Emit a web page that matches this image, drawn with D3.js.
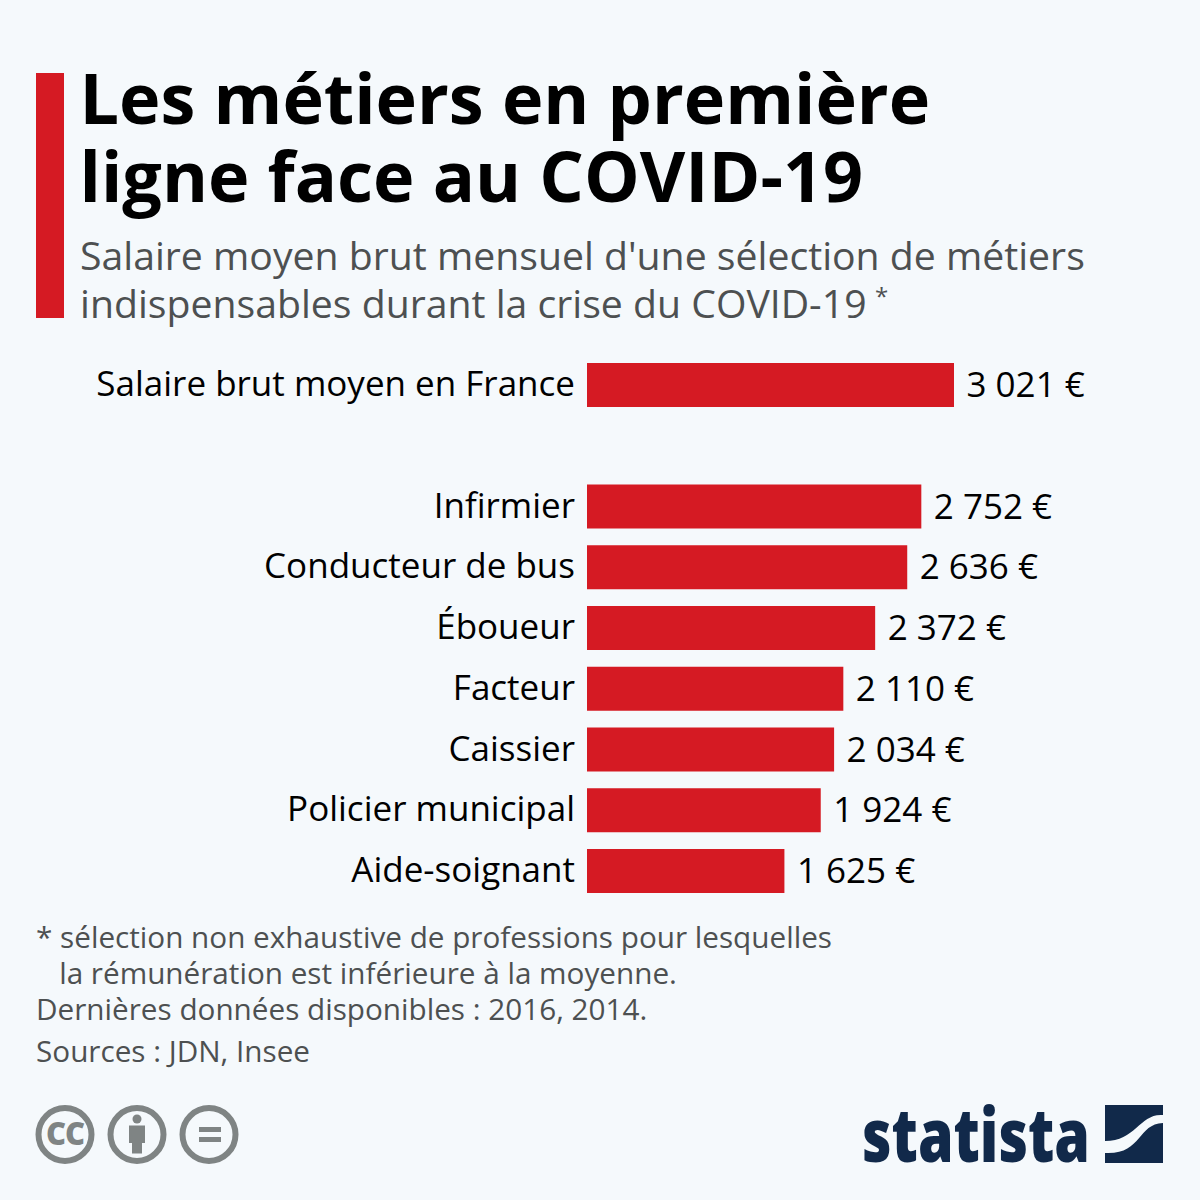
<!DOCTYPE html>
<html lang="fr">
<head>
<meta charset="utf-8">
<script src="https://cdn.jsdelivr.net/npm/d3@7"></script>
<style>
    html, body { margin: 0; padding: 0; background: #f5f9fc; }
    svg { display: block; }
    text { font-family: "Open Sans", sans-serif; }
</style>
</head>
<body>
<svg id="chart" width="1200" height="1200"></svg>
<script>
// "" is the empty row between the national average and the jobs
var categories = ["Salaire brut moyen en France", "", "Infirmier", "Conducteur de bus", "Éboueur", "Facteur", "Caissier", "Policier municipal", "Aide-soignant"];
var salaries = [3021, null, 2752, 2636, 2372, 2110, 2034, 1924, 1625];
var titleLines = ["Les métiers en première", "ligne face au COVID-19"];
var subtitleLines = ["Salaire moyen brut mensuel d'une sélection de métiers", "indispensables durant la crise du COVID-19"];
var noteLines = ["* sélection non exhaustive de professions pour lesquelles", "   la rémunération est inférieure à la moyenne.", "Dernières données disponibles : 2016, 2014."];
var sourceLine = "Sources : JDN, Insee";

var red = "#d51a23";
var svg = d3.select("#chart");

svg.append("rect").attr("width", 1200).attr("height", 1200).attr("fill", "#f5f9fc");

// header
svg.append("rect").attr("x", 36).attr("y", 73).attr("width", 28).attr("height", 245).attr("fill", red);

svg.selectAll(".title").data(titleLines).enter().append("text")
    .attr("class", "title")
    .attr("x", 79.5)
    .attr("y", (d, i) => 124 + i * 78)
    .attr("font-size", 70.1)
    .attr("font-weight", 700)
    .attr("fill", "#000")
    .text(d => d);

svg.selectAll(".subtitle").data(subtitleLines).enter().append("text")
    .attr("class", "subtitle")
    .attr("x", 80)
    .attr("y", (d, i) => 270 + i * 48)
    .attr("font-size", 39.2)
    .attr("fill", "#4d5051")
    .text(d => d);

svg.append("text")
    .attr("x", 875).attr("y", 305)
    .attr("font-size", 24)
    .attr("fill", "#4d5051")
    .text("*");

// bars
var x = d3.scaleLinear().domain([0, 3021]).range([587, 954]);
var rowTop = d3.scalePoint().domain(d3.range(categories.length)).range([363, 849]);

var rows = categories.map((c, i) => ({ name: c, value: salaries[i], i: i })).filter(d => d.value !== null);

svg.selectAll(".bar").data(rows).enter().append("rect")
    .attr("class", "bar")
    .attr("x", x(0))
    .attr("y", d => rowTop(d.i))
    .attr("width", d => x(d.value) - x(0))
    .attr("height", 44)
    .attr("fill", red);

svg.selectAll(".cat").data(rows).enter().append("text")
    .attr("class", "cat")
    .attr("x", 575)
    .attr("y", d => rowTop(d.i) + 33)
    .attr("text-anchor", "end")
    .attr("font-size", 35)
    .attr("fill", "#000")
    .text(d => d.name);

var fmt = v => String(Math.floor(v / 1000)) + " " + d3.format("03")(v % 1000) + " €";
svg.selectAll(".val").data(rows).enter().append("text")
    .attr("class", "val")
    .attr("x", d => x(d.value) + 12.5)
    .attr("y", d => rowTop(d.i) + 34)
    .attr("font-size", 35)
    .attr("fill", "#000")
    .text(d => fmt(d.value));

// footnotes
svg.selectAll(".note").data(noteLines).enter().append("text")
    .attr("class", "note")
    .attr("x", 36)
    .attr("y", (d, i) => 948 + i * 36)
    .attr("font-size", 29.7)
    .attr("fill", "#4d5051")
    .attr("xml:space", "preserve")
    .style("white-space", "pre")
    .text(d => d);

svg.append("text")
    .attr("x", 36).attr("y", 1062)
    .attr("font-size", 29.7)
    .attr("fill", "#4d5051")
    .text(sourceLine);

// licence icons
var grey = "#7f8484";
[65, 137, 209].forEach(cx => {
    svg.append("circle").attr("cx", cx).attr("cy", 1134.5).attr("r", 26.5)
        .attr("fill", "none").attr("stroke", grey).attr("stroke-width", 6);
});
svg.append("text")
    .attr("x", 65).attr("y", 1145)
    .attr("text-anchor", "middle")
    .attr("font-size", 31).attr("font-weight", 800).attr("letter-spacing", -1)
    .attr("fill", grey)
    .text("CC");
svg.append("circle").attr("cx", 137).attr("cy", 1119).attr("r", 4.5).attr("fill", grey);
svg.append("path").attr("fill", grey)
    .attr("d", "M129 1125.5H145V1143H142V1153.5H132V1143H129Z");
svg.append("rect").attr("x", 199).attr("y", 1127).attr("width", 22).attr("height", 5).attr("fill", grey);
svg.append("rect").attr("x", 199).attr("y", 1137).attr("width", 22).attr("height", 5).attr("fill", grey);

// statista logo
var navy = "#11294a";
svg.append("text")
    .attr("x", 862).attr("y", 1162)
    .attr("textLength", 228)
    .attr("lengthAdjust", "spacingAndGlyphs")
    .attr("font-size", 74).attr("font-weight", 800)
    .attr("fill", navy)
    .text("statista");
svg.append("path").attr("fill", navy)
    .attr("d", "M1105 1105H1163V1115C1140 1113 1136 1141 1105 1141Z");
svg.append("path").attr("fill", navy)
    .attr("d", "M1163 1123V1163H1105V1153C1142 1155 1137 1124 1163 1123Z");
</script>
</body>
</html>
